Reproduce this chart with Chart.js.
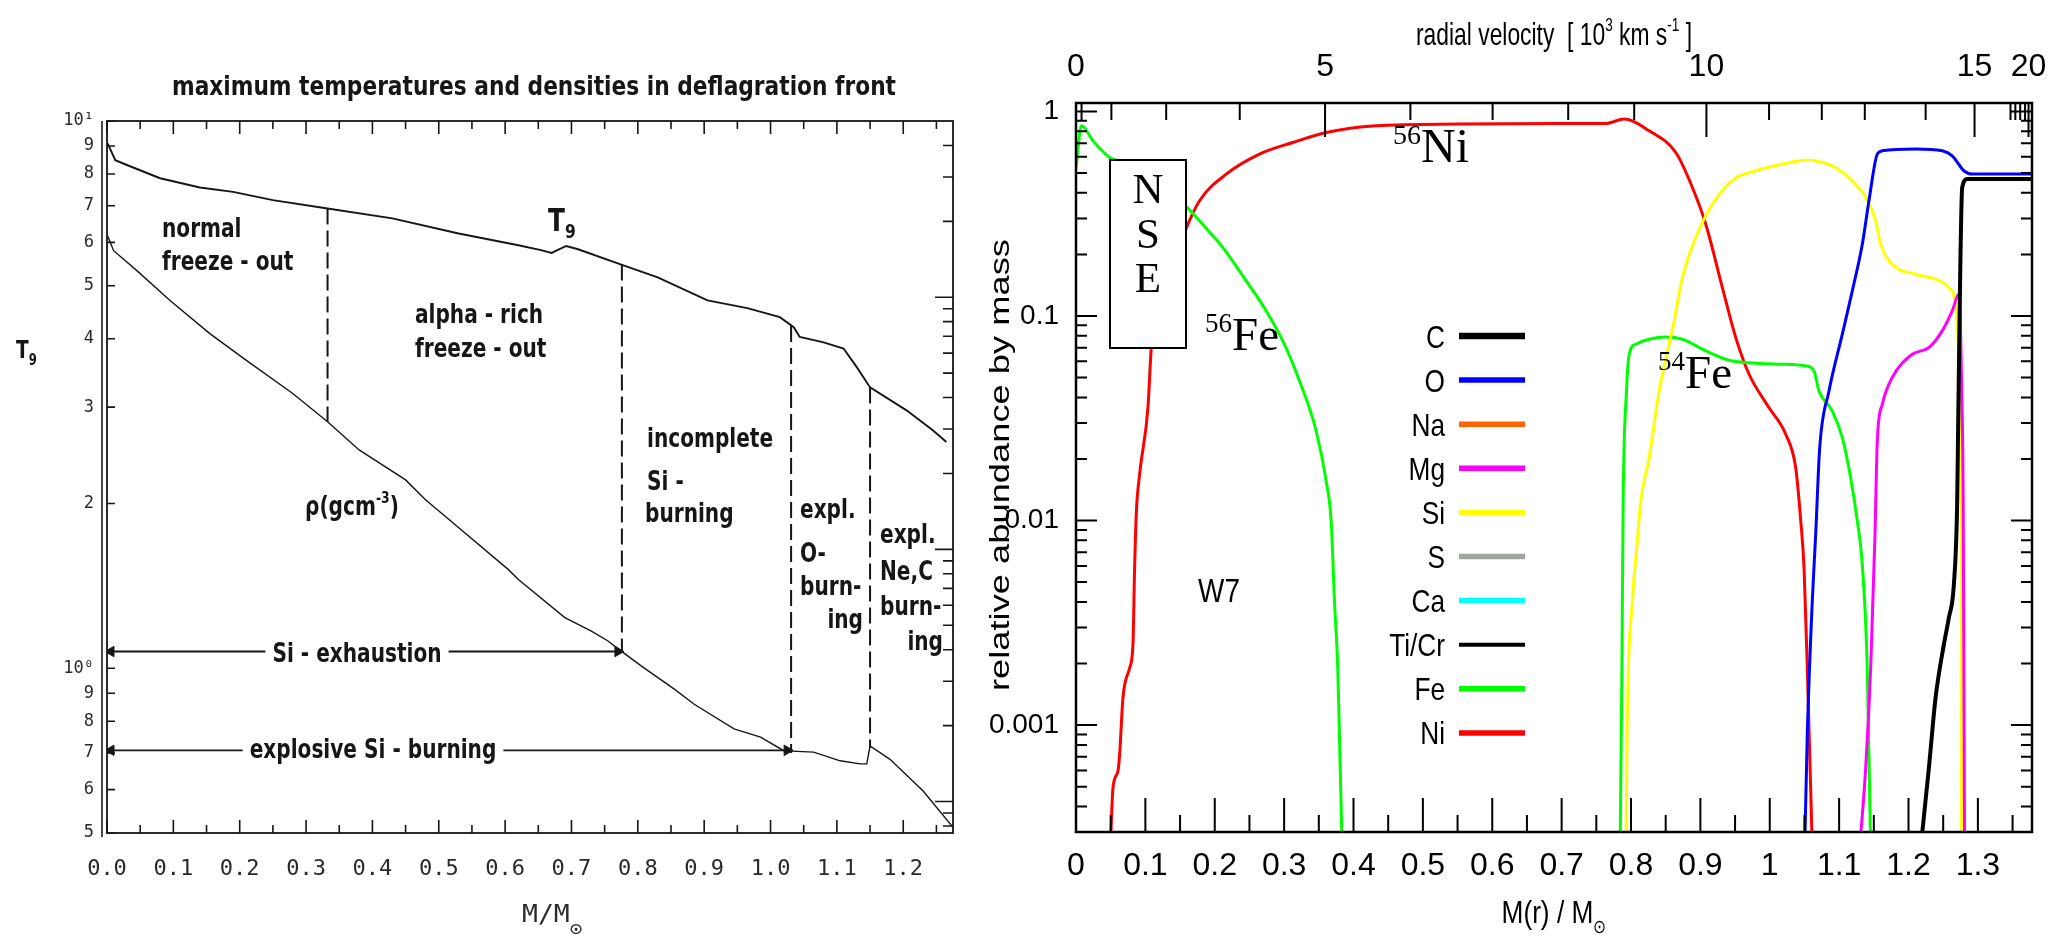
<!DOCTYPE html>
<html>
<head>
<meta charset="utf-8">
<title>W7 deflagration front and composition</title>
<script src="https://cdn.jsdelivr.net/npm/chart.js@4.4.1/dist/chart.umd.min.js"></script>
<style>
  html, body { margin: 0; background: #fff; }
  #wrap { position: relative; width: 2053px; height: 946px; overflow: hidden; }
  canvas { position: absolute; top: 0; }
  #front { left: 0; }
  #yields { left: 960px; }
</style>
</head>
<body>
<div id="wrap">
  <canvas id="front" width="960" height="946"></canvas>
  <canvas id="yields" width="1093" height="946"></canvas>
</div>
<script>
// ---------- left panel: peak T9 and density behind the deflagration front ----------
const frontMassTicks = [0, 0.1, 0.2, 0.3, 0.4, 0.5, 0.6, 0.7, 0.8, 0.9, 1.0, 1.1, 1.2];
const frontMassMinor = [0.05, 0.15, 0.25, 0.35, 0.45, 0.55, 0.65, 0.75, 0.85, 0.95, 1.05, 1.15, 1.25];
const t9Ticks = [0.5, 0.6, 0.7, 0.8, 0.9, 1, 2, 3, 4, 5, 6, 7, 8, 9, 10];
const rhoDecades = [1e7, 1e8, 1e9];
const rhoMinor = [8e6, 9e6, 2e7, 3e7, 4e7, 5e7, 6e7, 7e7, 8e7, 9e7,
  2e8, 3e8, 4e8, 5e8, 6e8, 7e8, 8e8, 9e8, 2e9, 3e9, 4e9];

const t9Mass = [0.001, 0.0125, 0.03, 0.08, 0.14, 0.19, 0.25, 0.3324, 0.43, 0.53, 0.62, 0.654, 0.67,
  0.692, 0.71, 0.774, 0.83, 0.905, 0.965, 1.014, 1.035, 1.044, 1.08, 1.11, 1.13, 1.15, 1.205, 1.245, 1.265];
const t9Peak = [9.10, 8.48, 8.31, 7.86, 7.56, 7.42, 7.17, 6.92, 6.64, 6.23, 5.93, 5.81, 5.74,
  5.91, 5.83, 5.47, 5.18, 4.70, 4.55, 4.38, 4.20, 4.03, 3.94, 3.84, 3.55, 3.26, 2.96, 2.72, 2.59];

const rhoMass = [0.001, 0.01, 0.045, 0.095, 0.155, 0.21, 0.28, 0.3324, 0.38, 0.45, 0.48, 0.51, 0.605,
  0.62, 0.69, 0.73, 0.755, 0.775, 0.805, 0.855, 0.885, 0.945, 0.985, 1.02, 1.04, 1.065, 1.105,
  1.135, 1.145, 1.15, 1.18, 1.23, 1.275];
const rhoPeak = [1.75e9, 1.53e9, 1.275e9, 9.7e8, 7.17e8, 5.62e8, 4.15e8, 3.21e8, 2.48e8, 1.886e8, 1.572e8,
  1.35e8, 8.31e7, 7.59e7, 5.36e7, 4.74e7, 4.33e7, 3.95e7, 3.45e7, 2.79e7, 2.43e7, 1.94e7, 1.80e7,
  1.59e7, 1.58e7, 1.57e7, 1.45e7, 1.41e7, 1.41e7, 1.66e7, 1.47e7, 1.10e7, 7.9e6];

// burning-regime boundaries (mass coordinate, T9 at top end, T9-axis level at bottom end)
const zoneEdgeMass = [0.3324, 0.776, 1.031, 1.15];
const zoneEdgeTop = [6.92, 5.47, 4.22, 3.26];
const zoneEdgeBottom = [2.82, 1.069, 0.70, 0.716];

// horizontal arrows: level on the T9 axis and mass where they stop
const siExhaustLevel = 1.073;
const siExhaustEnd = 0.776;
const siBurnLevel = 0.708;
const siBurnEnd = 1.031;

// ---------- right panel: W7 composition ----------
const yieldMassTicks = [0, 0.1, 0.2, 0.3, 0.4, 0.5, 0.6, 0.7, 0.8, 0.9, 1, 1.1, 1.2, 1.3];
const yieldMassMinor = [0.05, 0.15, 0.25, 0.35, 0.45, 0.55, 0.65, 0.75, 0.85, 0.95, 1.05, 1.15, 1.25, 1.35];
const velocity = [0, 1, 2, 3, 4, 5, 6, 7, 8, 9, 10, 11, 12, 13, 14, 15, 16, 17, 18, 19, 20];
const velocityMass = [0, 0.008, 0.051, 0.130, 0.236, 0.359, 0.482, 0.6005, 0.7095, 0.8046, 0.9087,
  0.999, 1.075, 1.137, 1.2247, 1.2952, 1.347, 1.354, 1.361, 1.368, 1.373];
const abundDecades = [0.001, 0.01, 0.1, 1];
const abundMinor = [4e-4, 5e-4, 6e-4, 7e-4, 8e-4, 9e-4, 0.002, 0.003, 0.004, 0.005, 0.006, 0.007, 0.008, 0.009,
  0.02, 0.03, 0.04, 0.05, 0.06, 0.07, 0.08, 0.09, 0.2, 0.3, 0.4, 0.5, 0.6, 0.7, 0.8, 0.9];

const cMass = [1.2175, 1.2294, 1.239, 1.251, 1.2582, 1.2654, 1.2702, 1.2716, 1.2774, 1.2846, 1.378];
const cAbund = [2.5e-4, 6.18e-4, 1.36e-3, 2.48e-3, 3.35e-3, 4.87e-3, 0.01246, 0.03, 0.425, 0.467, 0.467];

const oMass = [1.0504, 1.0541, 1.0613, 1.0662, 1.072, 1.0854, 1.1046, 1.119, 1.1334, 1.143, 1.155,
  1.1622, 1.2102, 1.2486, 1.263, 1.2798, 1.2918, 1.378];
const oAbund = [2.5e-4, 9.0e-4, 0.00404, 0.00856, 0.0227, 0.043, 0.0815, 0.1327, 0.2245, 0.366, 0.619,
  0.642, 0.655, 0.642, 0.607, 0.513, 0.494, 0.494];

const mgMass = [1.1296, 1.1383, 1.1455, 1.1517, 1.155, 1.1622, 1.1766, 1.2054, 1.2294, 1.2486, 1.263,
  1.2726, 1.277, 1.2788, 1.2808];
const mgAbund = [2.5e-4, 6.18e-4, 0.00191, 0.00856, 0.0245, 0.037, 0.050, 0.065, 0.070, 0.0846, 0.1059,
  0.128, 0.0385, 0.01246, 2.5e-4];

const siMass = [0.7929, 0.7943, 0.8021, 0.8079, 0.8142, 0.8262, 0.8406, 0.8622, 0.8741, 0.8934, 0.9173,
  0.9486, 0.9798, 1.0181, 1.0518, 1.0902, 1.119, 1.1383, 1.1527, 1.1599, 1.1766, 1.2102, 1.239, 1.2582,
  1.2678, 1.2726, 1.275, 1.2765, 1.2765];
const siAbund = [2.5e-4, 9.0e-4, 0.00404, 0.00709, 0.01246, 0.0203, 0.043, 0.0946, 0.154, 0.2418, 0.352,
  0.467, 0.513, 0.553, 0.578, 0.542, 0.458, 0.380, 0.292, 0.2245, 0.179, 0.160, 0.1514, 0.1377,
  0.1142, 0.0626, 0.0296, 0.00994, 2.5e-4];

// 56Fe in the centre, 54Fe in the incomplete Si-burning shell
const fe56Mass = [0, 0.0078, 0.0245, 0.0485, 0.0605, 0.11, 0.1575, 0.1781, 0.2117, 0.2454, 0.2742,
  0.2981, 0.3222, 0.3462, 0.3606, 0.3678, 0.3726, 0.3773, 0.3797, 0.3836];
const fe56Abund = [0.532, 0.851, 0.719, 0.596, 0.574, 0.45, 0.346, 0.292, 0.216, 0.1485, 0.1059,
  0.0755, 0.0481, 0.0274, 0.0156, 0.00994, 0.00404, 0.00191, 9.0e-4, 2.5e-4];
const fe54Mass = [0.7843, 0.7869, 0.7887, 0.7935, 0.7974, 0.807, 0.8262, 0.8502, 0.8741, 0.9078, 0.9414,
  0.9702, 1.018, 1.0518, 1.0638, 1.071, 1.0902, 1.1046, 1.1166, 1.1262, 1.1334, 1.1405, 1.1454];
const fe54Abund = [2.5e-4, 0.00191, 0.01246, 0.043, 0.065, 0.0728, 0.077, 0.079, 0.077, 0.0675, 0.0608,
  0.0591, 0.0581, 0.0570, 0.0539, 0.043, 0.0343, 0.0254, 0.0162, 0.00994, 0.0061, 0.00191, 2.5e-4];

const niMass = [0.0495, 0.0533, 0.0605, 0.0629, 0.0677, 0.0773, 0.0821, 0.0845, 0.087, 0.0917, 0.1037,
  0.1086, 0.133, 0.1575, 0.1781, 0.2166, 0.2645, 0.3125, 0.3606, 0.4326, 0.5526, 0.6966, 0.7638,
  0.7902, 0.8262, 0.8646, 0.8885, 0.9078, 0.9317, 0.951, 0.9702, 0.999, 1.023, 1.0374, 1.0447,
  1.0494, 1.0541, 1.0613];
const niAbund = [2.5e-4, 4.93e-4, 5.95e-4, 7.18e-4, 1.36e-3, 1.90e-3, 2.48e-3, 5.87e-3, 0.011, 0.0168,
  0.0356, 0.070, 0.15, 0.261, 0.366, 0.494, 0.619, 0.705, 0.789, 0.851, 0.868, 0.874, 0.874,
  0.918, 0.804, 0.630, 0.425, 0.281, 0.1377, 0.0784, 0.0519, 0.0356, 0.0264, 0.0181, 0.00994,
  0.00588, 0.00191, 2.5e-4];

const ink = '#161616';
const narrow = '"Liberation Sans Narrow", "Liberation Sans", sans-serif';
const serif = '"Liberation Serif", "DejaVu Serif", serif';
const scanBold = '"DejaVu Sans Condensed", "DejaVu Sans", sans-serif';
const scanThin = '"DejaVu Sans Mono", monospace';

function pts(xs, ys) {
  return xs.map((x, i) => ({ x, y: ys[i] }));
}

// text with optional super/subscript pieces, squeezed by sx (along) and sy (glyph height)
function drawText(ctx, parts, x, y, o) {
  const size = o.size;
  const list = parts.map(p => (typeof p === 'string' ? { t: p } : p));
  const fontOf = p => `${o.weight || 'normal'} ${p.k ? Math.round(size * (o.scriptScale || 0.62)) : size}px ${o.family}`;
  let natural = 0;
  list.forEach(p => { ctx.font = fontOf(p); natural += ctx.measureText(p.t).width; });
  const sx = o.fit ? o.fit / natural : (o.sx || 1);
  const sy = o.sy || 1;
  const w = natural * sx;
  let cx = o.align === 'center' ? x - w / 2 : o.align === 'right' ? x - w : x;
  if (o.bg) {
    ctx.fillStyle = o.bg;
    ctx.fillRect(cx - 7, y - size * 0.85, w + 14, size * 1.15);
  }
  ctx.fillStyle = o.color || '#000';
  ctx.textAlign = 'left';
  ctx.textBaseline = 'alphabetic';
  list.forEach(p => {
    ctx.font = fontOf(p);
    const dy = p.k === 'sup' ? -size * (o.supRise || 0.4) : p.k === 'sub' ? size * (o.subDrop || 0.25) : 0;
    ctx.save();
    ctx.translate(cx, y + dy * sy);
    ctx.scale(sx, sy);
    ctx.fillText(p.t, 0, 0);
    ctx.restore();
    cx += ctx.measureText(p.t).width * sx;
  });
  return w;
}

// box around the plot area plus inward tick marks taken from the chart's scales
const frameTicks = {
  id: 'frameTicks',
  afterDraw(chart, args, opts) {
    const { ctx, chartArea: a } = chart;
    ctx.save();
    ctx.strokeStyle = opts.color;
    ctx.lineWidth = opts.borderWidth;
    ctx.strokeRect(a.left, a.top, a.right - a.left, a.bottom - a.top);
    if (opts.outerLeft) {
      ctx.lineWidth = 1.6;
      ctx.beginPath();
      ctx.moveTo(a.left - opts.outerLeft, a.top);
      ctx.lineTo(a.left - opts.outerLeft, a.bottom + 4);
      ctx.stroke();
    }
    ctx.lineWidth = opts.tickWidth;
    opts.marks.forEach(m => {
      const s = chart.scales[m.scale];
      ctx.beginPath();
      m.values.forEach(v => {
        const p = s.getPixelForValue(v);
        if (m.edge === 'bottom') { ctx.moveTo(p, a.bottom); ctx.lineTo(p, a.bottom - m.len); }
        else if (m.edge === 'top') { ctx.moveTo(p, a.top); ctx.lineTo(p, a.top + m.len); }
        else if (m.edge === 'left') { ctx.moveTo(a.left, p); ctx.lineTo(a.left + m.len, p); }
        else { ctx.moveTo(a.right, p); ctx.lineTo(a.right - m.len, p); }
      });
      ctx.stroke();
    });
    ctx.restore();
  }
};

// region names, arrow captions and axis titles of the left panel
const frontNotes = {
  id: 'frontNotes',
  afterDraw(chart) {
    const ctx = chart.ctx;
    const b = { family: scanBold, weight: 'bold', size: 26, sx: 0.86, color: ink };
    drawText(ctx, ['maximum temperatures and densities in deflagration front'], 534, 95,
      { family: scanBold, weight: 'bold', size: 27, fit: 724, align: 'center', color: ink });
    [['normal', 162, 237], ['freeze - out', 162, 270], ['alpha - rich', 415, 323], ['freeze - out', 415, 357],
     ['incomplete', 647, 447], ['Si -', 647, 490], ['burning', 645, 522],
     ['expl.', 800, 518], ['O-', 800, 562], ['burn-', 800, 595],
     ['expl.', 880, 543], ['Ne,C', 880, 580], ['burn-', 880, 615]]
      .forEach(([t, x, y]) => drawText(ctx, [t], x, y, b));
    drawText(ctx, ['ing'], 863, 628, { ...b, align: 'right' });
    drawText(ctx, ['ing'], 943, 650, { ...b, align: 'right' });
    drawText(ctx, ['Si - exhaustion'], 357, 662, { ...b, align: 'center', bg: '#fff' });
    drawText(ctx, ['explosive Si - burning'], 373, 758, { ...b, align: 'center', bg: '#fff' });
    drawText(ctx, ['ρ(gcm', { t: '-3', k: 'sup' }, ')'], 305, 515, { ...b, supRise: 0.45 });
    drawText(ctx, ['T', { t: '9', k: 'sub' }], 548, 231, { ...b, size: 32, subDrop: 0.22 });
    drawText(ctx, ['T', { t: '9', k: 'sub' }], 16, 358, { ...b, size: 24, subDrop: 0.3 });
    drawText(ctx, ['M/M', { t: '⊙', k: 'sub' }], 522, 922,
      { family: scanThin, size: 24, sx: 1.1, color: '#2a2a2a', subDrop: 0.55, scriptScale: 0.8 });
  }
};

const frontLine = { pointRadius: 0, fill: false, borderColor: ink, tension: 0 };

const frontSets = [
  { ...frontLine, label: 'T9', data: pts(t9Mass, t9Peak), yAxisID: 'y', borderWidth: 1.9 },
  { ...frontLine, label: 'rho', data: pts(rhoMass, rhoPeak), yAxisID: 'rho', borderWidth: 1.4 },
  ...zoneEdgeMass.map((m, i) => ({
    ...frontLine, label: 'edge', yAxisID: 'y', borderWidth: 2, borderDash: [16, 6],
    data: [{ x: m, y: zoneEdgeTop[i] }, { x: m, y: zoneEdgeBottom[i] }]
  })),
  ...[[siExhaustLevel, siExhaustEnd], [siBurnLevel, siBurnEnd]].map(([lvl, end]) => ({
    ...frontLine, label: 'arrow', yAxisID: 'y', borderWidth: 1.9,
    data: [{ x: 0.006, y: lvl }, { x: end - 0.006, y: lvl }],
    pointRadius: 6, pointStyle: 'triangle', rotation: [270, 90],
    pointBackgroundColor: ink, pointBorderColor: ink, pointBorderWidth: 1
  }))
];

new Chart(document.getElementById('front'), {
  type: 'line',
  data: { datasets: frontSets },
  options: {
    responsive: false,
    animation: false,
    events: [],
    layout: { padding: { left: 0, right: 3, top: 121, bottom: 0 } },
    plugins: {
      legend: { display: false },
      tooltip: { enabled: false },
      frameTicks: {
        color: ink, borderWidth: 1.8, tickWidth: 1.6, outerLeft: 5,
        marks: [
          { scale: 'x', edge: 'bottom', values: frontMassTicks, len: 13 },
          { scale: 'x', edge: 'bottom', values: frontMassMinor, len: 8 },
          { scale: 'x', edge: 'top', values: frontMassTicks, len: 13 },
          { scale: 'x', edge: 'top', values: frontMassMinor, len: 8 },
          { scale: 'y', edge: 'left', values: t9Ticks, len: 8 },
          { scale: 'rho', edge: 'right', values: rhoDecades, len: 18 },
          { scale: 'rho', edge: 'right', values: rhoMinor, len: 10 }
        ]
      }
    },
    scales: {
      x: {
        type: 'linear', position: 'bottom', min: 0, max: 1.275,
        grid: { display: false, drawTicks: false }, border: { display: false },
        ticks: {
          autoSkip: false, maxRotation: 0, padding: 23, color: '#2a2a2a',
          font: { family: scanThin, size: 22 },
          callback: v => v.toFixed(1)
        },
        afterBuildTicks: s => { s.ticks = frontMassTicks.map(value => ({ value })); },
        afterFit: s => { s.height = 113; s.paddingLeft = 0; s.paddingRight = 0; }
      },
      y: {
        type: 'logarithmic', position: 'left', min: 0.5, max: 10,
        grid: { display: false, drawTicks: false }, border: { display: false },
        ticks: {
          autoSkip: false, padding: 13, color: '#2a2a2a',
          font: { family: scanThin, size: 17 },
          callback: v => (v === 10 ? '10¹' : v === 1 ? '10⁰' : String(Math.round(v >= 1 ? v : v * 10)))
        },
        afterBuildTicks: s => { s.ticks = t9Ticks.map(value => ({ value })); },
        afterFit: s => { s.width = 107; s.paddingTop = 0; s.paddingBottom = 0; }
      },
      rho: { type: 'logarithmic', position: 'right', min: 7.5e6, max: 5e9, display: false }
    }
  },
  plugins: [frameTicks, frontNotes]
});

// ---------- right chart ----------
const yieldNotes = {
  id: 'yieldNotes',
  afterDatasetsDraw(chart) {
    const ctx = chart.ctx;
    // NSE box hides the curves behind it
    ctx.save();
    ctx.fillStyle = '#fff';
    ctx.strokeStyle = '#000';
    ctx.lineWidth = 2;
    ctx.fillRect(150, 160, 76, 188);
    ctx.strokeRect(150, 160, 76, 188);
    ctx.restore();
    const s = { family: serif, size: 43, align: 'center' };
    drawText(ctx, ['N'], 188, 203, s);
    drawText(ctx, ['S'], 188, 248, s);
    drawText(ctx, ['E'], 188, 292, s);
  },
  afterDraw(chart) {
    const ctx = chart.ctx;
    const iso = { family: serif, size: 48, scriptScale: 0.58, supRise: 0.38 };
    drawText(ctx, [{ t: '56', k: 'sup' }, 'Ni'], 433, 162, iso);
    drawText(ctx, [{ t: '56', k: 'sup' }, 'Fe'], 245, 350, { ...iso, size: 47 });
    drawText(ctx, [{ t: '54', k: 'sup' }, 'Fe'], 698, 388, { ...iso, size: 47 });
    const n = { family: narrow, size: 32, sx: 0.82, color: '#000' };
    drawText(ctx, ['W7'], 259, 602, { ...n, size: 34, align: 'center' });

    // legend: label, then a short line in the dataset colour
    chart.data.datasets.forEach((d, i) => {
      const y = 336 + i * 44.1;
      drawText(ctx, [d.label], 485, y + 11.5, { ...n, align: 'right' });
      ctx.save();
      ctx.strokeStyle = d.borderColor;
      ctx.lineWidth = d.borderWidth + 2.5;
      ctx.beginPath();
      ctx.moveTo(499, y);
      ctx.lineTo(565, y);
      ctx.stroke();
      ctx.restore();
    });

    drawText(ctx, ['M(r) / M', { t: '⊙', k: 'sub' }], 594, 923, { ...n, align: 'center', subDrop: 0.3, scriptScale: 0.6 });
    drawText(ctx, ['radial velocity  [ 10', { t: '3', k: 'sup' }, ' km s', { t: '-1', k: 'sup' }, ' ]'], 594, 45,
      { ...n, fit: 276, align: 'center', scriptScale: 0.6, supRise: 0.45 });
    // y title: full length along the axis, glyphs flattened across it
    ctx.save();
    ctx.translate(49, 465);
    ctx.rotate(-Math.PI / 2);
    drawText(ctx, ['relative abundance by mass'], 0, 0,
      { family: narrow, size: 38, fit: 452, sy: 0.72, align: 'center', color: '#000' });
    ctx.restore();
  }
};

const curve = { pointRadius: 0, fill: false, clip: 0, borderWidth: 3, cubicInterpolationMode: 'monotone' };

const yieldSets = [
  { ...curve, label: 'C', borderColor: '#000000', borderWidth: 4, data: pts(cMass, cAbund) },
  { ...curve, label: 'O', borderColor: '#0000ff', data: pts(oMass, oAbund) },
  { ...curve, label: 'Na', borderColor: '#ff6400', data: [] },
  { ...curve, label: 'Mg', borderColor: '#ff00ff', data: pts(mgMass, mgAbund) },
  { ...curve, label: 'Si', borderColor: '#ffff00', data: pts(siMass, siAbund) },
  { ...curve, label: 'S', borderColor: '#9ea69e', data: [] },
  { ...curve, label: 'Ca', borderColor: '#00ffff', data: [] },
  { ...curve, label: 'Ti/Cr', borderColor: '#000000', borderWidth: 1.5, data: [] },
  { ...curve, label: 'Fe', borderColor: '#00ff00',
    data: [...pts(fe56Mass, fe56Abund), { x: 0.58, y: null }, ...pts(fe54Mass, fe54Abund)] },
  { ...curve, label: 'Ni', borderColor: '#ff0000', data: pts(niMass, niAbund) }
];

const velMajorMass = velocityMass.filter((m, i) => velocity[i] % 5 === 0);
const velMinorMass = velocityMass.filter((m, i) => velocity[i] % 5 !== 0);
const tickFont = { family: narrow, size: 32 };

new Chart(document.getElementById('yields'), {
  type: 'line',
  data: { datasets: yieldSets },
  options: {
    responsive: false,
    animation: false,
    events: [],
    spanGaps: false,
    layout: { padding: { left: 0, right: 21, top: 0, bottom: 0 } },
    plugins: {
      legend: { display: false },
      tooltip: { enabled: false },
      frameTicks: {
        color: '#000', borderWidth: 2.5, tickWidth: 2,
        marks: [
          { scale: 'x', edge: 'bottom', values: yieldMassTicks, len: 34 },
          { scale: 'x', edge: 'bottom', values: yieldMassMinor, len: 17 },
          { scale: 'x2', edge: 'top', values: velMajorMass, len: 34 },
          { scale: 'x2', edge: 'top', values: velMinorMass, len: 17 },
          { scale: 'y', edge: 'left', values: abundDecades, len: 21 },
          { scale: 'y', edge: 'left', values: abundMinor, len: 11 },
          { scale: 'y', edge: 'right', values: abundDecades, len: 21 },
          { scale: 'y', edge: 'right', values: abundMinor, len: 11 }
        ]
      }
    },
    scales: {
      x: {
        type: 'linear', position: 'bottom', min: 0, max: 1.378,
        grid: { display: false, drawTicks: false }, border: { display: false },
        ticks: {
          autoSkip: false, maxRotation: 0, padding: 15, color: '#000', font: tickFont,
          callback: v => String(Math.round(v * 10) / 10)
        },
        afterBuildTicks: s => { s.ticks = yieldMassTicks.map(value => ({ value })); },
        afterFit: s => { s.height = 114; s.paddingLeft = 0; s.paddingRight = 0; }
      },
      x2: {
        type: 'linear', position: 'top', min: 0, max: 1.378,
        grid: { display: false, drawTicks: false }, border: { display: false },
        ticks: {
          autoSkip: false, maxRotation: 0, padding: 17, color: '#000', font: tickFont,
          callback: (v, i) => (velocity[i] % 5 === 0 ? String(velocity[i]) : '')
        },
        afterBuildTicks: s => { s.ticks = velocityMass.map(value => ({ value })); },
        afterFit: s => { s.height = 103; s.paddingLeft = 0; s.paddingRight = 0; }
      },
      y: {
        type: 'logarithmic', position: 'left', min: 3e-4, max: 1.1,
        grid: { display: false, drawTicks: false }, border: { display: false },
        ticks: {
          autoSkip: false, padding: 17, color: '#000', font: { family: narrow, size: 28 },
          callback: v => String(v)
        },
        afterBuildTicks: s => { s.ticks = abundDecades.map(value => ({ value })); },
        afterFit: s => { s.width = 116; s.paddingTop = 0; s.paddingBottom = 0; }
      }
    }
  },
  plugins: [frameTicks, yieldNotes]
});
</script>
</body>
</html>
